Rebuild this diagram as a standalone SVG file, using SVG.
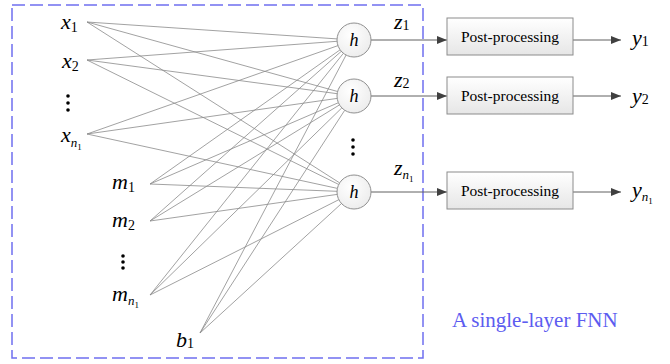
<svg xmlns="http://www.w3.org/2000/svg" width="670" height="364" viewBox="0 0 670 364">
<defs>
<linearGradient id="boxg" x1="0" y1="0" x2="0" y2="1">
<stop offset="0" stop-color="#ffffff"/>
<stop offset="1" stop-color="#e6e6e6"/>
</linearGradient>
<radialGradient id="circg" cx="0.4" cy="0.35" r="0.7">
<stop offset="0" stop-color="#ffffff"/>
<stop offset="1" stop-color="#ececec"/>
</radialGradient>
<marker id="arr" viewBox="0 0 10 8" refX="10" refY="4" markerWidth="10" markerHeight="8" markerUnits="userSpaceOnUse" orient="auto">
<path d="M0,0 L10,4 L0,8 Z" fill="#404040"/>
</marker>
</defs>
<style>
text{font-family:"Liberation Serif","Times New Roman",serif;}
.lab{font-style:italic;fill:#000;}
.main{font-size:22px;}
.sub{font-size:14px;font-style:normal;}
.subn{font-size:13px;}
.subs{font-size:9px;font-style:normal;}
.w{stroke:#8a8a8a;stroke-width:0.8;fill:none;}
.arrow{stroke:#606060;stroke-width:1;fill:none;marker-end:url(#arr);}
.hc{fill:url(#circg);stroke:#909090;stroke-width:1;}
.box{fill:url(#boxg);stroke:#8c8c8c;stroke-width:1;}
.bt{font-size:15.5px;fill:#000;text-anchor:middle;}
.dot{fill:#000;}
</style>
<rect id="fnn-frame" x="12" y="5" width="411" height="353" fill="none" stroke="#6f6ff0" stroke-width="1.5" stroke-dasharray="13,5"/>
<text x="452" y="327" font-size="21" fill="#5c5cf0">A single-layer FNN</text>
<g id="connectors">
<line class="w" x1="87" y1="22" x2="337.0" y2="38.9"/>
<line class="w" x1="87" y1="60" x2="337.0" y2="41.3"/>
<line class="w" x1="87" y1="134" x2="338.0" y2="45.6"/>
<line class="w" x1="150" y1="184" x2="340.1" y2="49.8"/>
<line class="w" x1="150" y1="221" x2="341.3" y2="51.3"/>
<line class="w" x1="150" y1="295" x2="343.4" y2="53.3"/>
<line class="w" x1="200" y1="333" x2="346.1" y2="55.0"/>
<line class="w" x1="87" y1="22" x2="337.6" y2="91.5"/>
<line class="w" x1="87" y1="60" x2="337.2" y2="93.7"/>
<line class="w" x1="87" y1="134" x2="337.2" y2="98.4"/>
<line class="w" x1="150" y1="184" x2="338.4" y2="102.7"/>
<line class="w" x1="150" y1="221" x2="339.5" y2="104.9"/>
<line class="w" x1="150" y1="295" x2="341.8" y2="107.9"/>
<line class="w" x1="200" y1="333" x2="344.7" y2="110.3"/>
<line class="w" x1="87" y1="22" x2="339.7" y2="182.9"/>
<line class="w" x1="87" y1="60" x2="338.8" y2="184.5"/>
<line class="w" x1="87" y1="134" x2="337.4" y2="188.4"/>
<line class="w" x1="150" y1="184" x2="337.0" y2="191.3"/>
<line class="w" x1="150" y1="221" x2="337.2" y2="194.4"/>
<line class="w" x1="150" y1="295" x2="338.8" y2="199.7"/>
<line class="w" x1="200" y1="333" x2="341.5" y2="203.5"/>
<line class="arrow" x1="371" y1="40" x2="447" y2="40"/>
<line class="arrow" x1="371" y1="96" x2="447" y2="96"/>
<line class="arrow" x1="371" y1="192" x2="447" y2="192"/>
<line class="arrow" x1="573" y1="40" x2="621" y2="40"/>
<line class="arrow" x1="573" y1="96" x2="621" y2="96"/>
<line class="arrow" x1="573" y1="192" x2="621" y2="192"/>
</g>
<g id="in-x1"><text class="lab main" x="61" y="29">x<tspan class="sub" dy="3">1</tspan></text></g>
<g id="in-x2"><text class="lab main" x="62" y="68">x<tspan class="sub" dy="3">2</tspan></text></g>
<g id="dots-x"><circle class="dot" cx="68" cy="96" r="1.8"/><circle class="dot" cx="68" cy="103" r="1.8"/><circle class="dot" cx="68" cy="110" r="1.8"/></g>
<g id="in-xn1"><text class="lab main" x="61" y="142">x<tspan class="subn" dy="5">n</tspan><tspan class="subs" dy="3">1</tspan></text></g>
<g id="in-m1"><text class="lab main" x="112" y="189">m<tspan class="sub" dy="3">1</tspan></text></g>
<g id="in-m2"><text class="lab main" x="112" y="227">m<tspan class="sub" dy="3">2</tspan></text></g>
<g id="dots-m"><circle class="dot" cx="123" cy="256" r="1.8"/><circle class="dot" cx="123" cy="262" r="1.8"/><circle class="dot" cx="123" cy="268" r="1.8"/></g>
<g id="in-mn1"><text class="lab main" x="112" y="301">m<tspan class="subn" dy="4">n</tspan><tspan class="subs" dy="3">1</tspan></text></g>
<g id="in-b1"><text class="lab main" x="176" y="347">b<tspan class="sub" dy="1">1</tspan></text></g>
<g id="h1"><circle class="hc" cx="354" cy="40" r="17"/><text class="lab" x="354" y="46" font-size="18" text-anchor="middle">h</text></g>
<g id="h2"><circle class="hc" cx="354" cy="96" r="17"/><text class="lab" x="354" y="102" font-size="18" text-anchor="middle">h</text></g>
<g id="dots-h"><circle class="dot" cx="353" cy="140" r="1.8"/><circle class="dot" cx="353" cy="147" r="1.8"/><circle class="dot" cx="353" cy="154" r="1.8"/></g>
<g id="h3"><circle class="hc" cx="354" cy="192" r="17"/><text class="lab" x="354" y="198" font-size="18" text-anchor="middle">h</text></g>
<g id="z1"><text class="lab main" x="394" y="29">z<tspan class="sub" dy="1">1</tspan></text></g>
<g id="z2"><text class="lab main" x="394" y="87">z<tspan class="sub" dy="1">2</tspan></text></g>
<g id="zn1"><text class="lab main" x="394" y="175">z<tspan class="subn" dy="4">n</tspan><tspan class="subs" dy="3">1</tspan></text></g>
<g id="pp1"><rect class="box" x="447" y="18" width="126" height="37"/><text class="bt" x="510" y="42">Post-processing</text></g>
<g id="pp2"><rect class="box" x="447" y="77" width="126" height="37"/><text class="bt" x="510" y="101">Post-processing</text></g>
<g id="pp3"><rect class="box" x="447" y="172" width="126" height="37"/><text class="bt" x="510" y="196">Post-processing</text></g>
<g id="y1"><text class="lab main" x="632" y="45">y<tspan class="sub" dy="1">1</tspan></text></g>
<g id="y2"><text class="lab main" x="632" y="103">y<tspan class="sub" dy="1">2</tspan></text></g>
<g id="yn1"><text class="lab main" x="632" y="197">y<tspan class="subn" dy="4">n</tspan><tspan class="subs" dy="3">1</tspan></text></g>
</svg>
